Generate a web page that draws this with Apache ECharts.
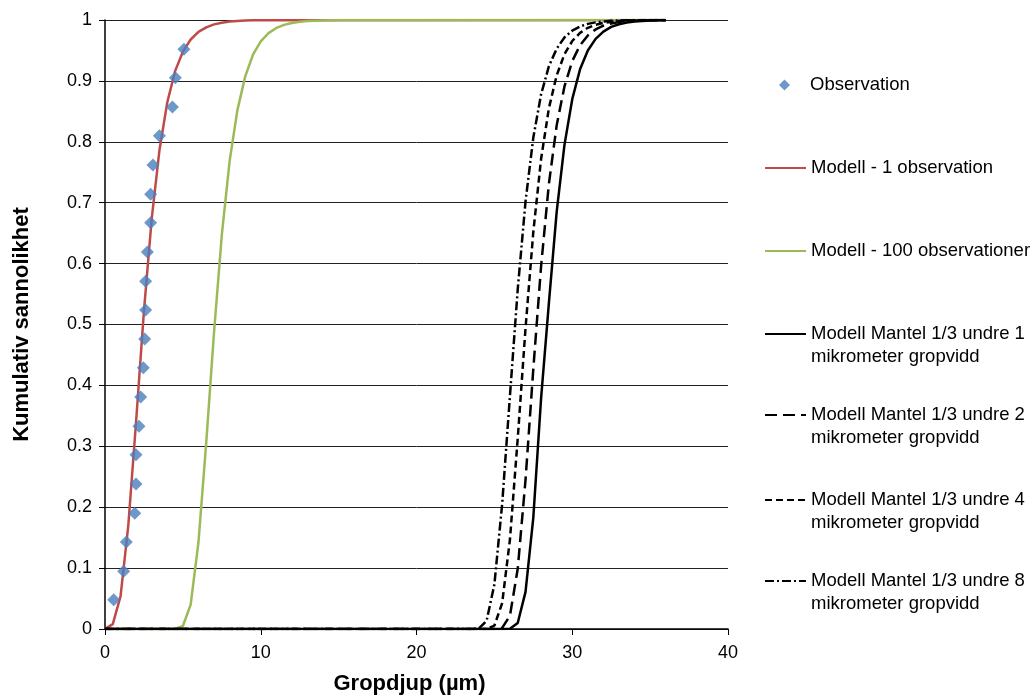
<!DOCTYPE html>
<html>
<head>
<meta charset="utf-8">
<style>
  html, body { margin: 0; padding: 0; background: #fff; }
  #chart { width: 1032px; height: 700px; }
</style>
<script src="https://cdn.jsdelivr.net/npm/echarts@6/dist/echarts.min.js"></script>
</head>
<body>
<div id="chart"></div>
<script>
// Observed pit depths (µm) and their cumulative probability rank
const obsDepth = [0.56, 1.20, 1.37, 1.91, 1.99, 1.99, 2.18, 2.29, 2.46, 2.55,
                  2.61, 2.61, 2.72, 2.93, 2.93, 3.08, 3.49, 4.33, 4.52, 5.07];
const obsProb = [0.048, 0.095, 0.143, 0.190, 0.238, 0.286, 0.333, 0.381, 0.429, 0.476,
                 0.524, 0.571, 0.619, 0.667, 0.714, 0.762, 0.810, 0.857, 0.905, 0.952];

// Model fitted to one observation
const oneDepth = [0, 0.5, 1, 1.5, 2, 2.5, 3, 3.5, 4, 4.5, 5, 5.5, 6, 6.5, 7, 7.5, 8, 8.5, 9, 9.5, 10, 36];
const oneProb = [0.0004, 0.008, 0.054, 0.171, 0.342, 0.522, 0.674, 0.787, 0.865, 0.916, 0.948,
                 0.968, 0.9805, 0.988, 0.9928, 0.9956, 0.9974, 0.9984, 0.999, 0.9994, 0.9996, 1];

// Model for 100 observations
const hundredDepth = [0, 4.5, 5, 5.5, 6, 6.5, 7, 7.5, 8, 8.5, 9, 9.5, 10, 10.5, 11, 11.5, 12,
                      12.5, 13, 13.5, 14, 14.5, 15, 36];
const hundredProb = [0, 0.0002, 0.005, 0.040, 0.142, 0.306, 0.487, 0.647, 0.768, 0.852, 0.907,
                     0.943, 0.965, 0.9785, 0.987, 0.992, 0.9952, 0.9971, 0.9982, 0.9989, 0.9993,
                     0.9996, 0.9998, 1];

// Mantel models, shared depth grid
const mantelDepth = [0, 23, 23.5, 24, 24.5, 25, 25.5, 26, 26.5, 27, 27.5, 28, 28.5, 29, 29.5,
                     30, 30.5, 31, 31.5, 32, 32.5, 33, 33.5, 34, 34.5, 35, 35.5, 36];
const mantel1Prob = [0, 0, 0, 0, 0, 0, 0, 0.0005, 0.0099, 0.061, 0.183, 0.379, 0.535, 0.685, 0.795,
                     0.870, 0.919, 0.950, 0.969, 0.981, 0.9886, 0.9931, 0.9958, 0.9974, 0.9985,
                     0.9991, 0.9994, 0.9997];
const mantel2Prob = [0, 0, 0, 0, 0, 0.00003, 0.0018, 0.022, 0.099, 0.245, 0.427, 0.596, 0.731, 0.827,
                     0.891, 0.9325, 0.9585, 0.9746, 0.9845, 0.9906, 0.9943, 0.9965, 0.9979,
                     0.9987, 0.9992, 0.9995, 0.9997, 0.9998];
const mantel4Prob = [0, 0, 0, 0, 0.0002, 0.0055, 0.0425, 0.147, 0.313, 0.494, 0.652, 0.772, 0.855,
                     0.909, 0.9438, 0.9655, 0.9789, 0.9872, 0.9922, 0.9953, 0.9971, 0.9983,
                     0.999, 0.9994, 0.9996, 0.9998, 0.9999, 0.9999];
const mantel8Prob = [0, 0, 0, 0.0008, 0.0135, 0.073, 0.205, 0.383, 0.558, 0.702, 0.807, 0.878, 0.924,
                     0.953, 0.9714, 0.9826, 0.9894, 0.9936, 0.9961, 0.9976, 0.9986, 0.9991,
                     0.9995, 0.9997, 0.9998, 0.9999, 0.9999, 1];

const seriesNames = [
  'Observation',
  'Modell - 1 observation',
  'Modell - 100 observationer',
  'Modell Mantel 1/3 undre 1\nmikrometer gropvidd',
  'Modell Mantel 1/3 undre 2\nmikrometer gropvidd',
  'Modell Mantel 1/3 undre 4\nmikrometer gropvidd',
  'Modell Mantel 1/3 undre 8\nmikrometer gropvidd'
];

const xTicks = { min: 0, max: 40, interval: 10 };
const yTicks = { min: 0, max: 1, interval: 0.1 };

const pairs = (xs, ys) => xs.map((x, i) => [x, ys[i]]);
const FONT = '"Liberation Sans", Arial, sans-serif';

const lineSeries = (name, xs, ys, color, type, z) => ({
  name, type: 'line', data: pairs(xs, ys), symbol: 'none', z,
  lineStyle: { color, width: 2.5, type },
  itemStyle: { color },
  emphasis: { disabled: true }, animation: false
});

// One legend block per entry; two-line labels get a blank leading line
// so the icon lines up with the first line of text.
const LINE_H = 23;
const ICON_W = 41;
const DIAMOND = 11;
const legendCenters = [85, 168, 251, 334, 415, 500, 581];
const legends = seriesNames.map((name, i) => {
  const multi = name.indexOf('\n') >= 0;
  const isScatter = i === 0;
  // a square diamond icon is centred in the icon slot, so its block starts further right
  const left = isScatter ? 764 + (ICON_W - DIAMOND) / 2 : 764;
  return {
    data: [isScatter ? { name, icon: 'path://M0,-1L1,0L0,1L-1,0Z' } : name],
    left, top: legendCenters[i] - (multi ? 1.5 * LINE_H : LINE_H / 2),
    padding: 0, itemWidth: ICON_W, itemHeight: isScatter ? DIAMOND : 12, itemGap: 0,
    selectedMode: false, orient: 'vertical',
    itemStyle: isScatter ? {} : { opacity: 0 },
    formatter: multi ? (n => ' \n' + n) : undefined,
    textStyle: { fontFamily: FONT, fontSize: 18.5, color: '#000', lineHeight: LINE_H }
  };
});

const option = {
  animation: false,
  backgroundColor: '#fff',
  grid: { left: 105, right: 304, top: 20, bottom: 68, containLabel: false },
  legend: legends,
  xAxis: {
    type: 'value', min: xTicks.min, max: xTicks.max, interval: xTicks.interval,
    name: 'Gropdjup (µm)', nameLocation: 'middle', nameGap: 44,
    nameTextStyle: { fontFamily: FONT, fontSize: 22, fontWeight: 'bold', color: '#000',
                     padding: [0, 14, 0, 0] },
    axisLine: { lineStyle: { color: '#000', width: 1.5 } },
    axisTick: { show: true, length: 6, lineStyle: { color: '#000' } },
    axisLabel: { fontFamily: FONT, fontSize: 18, color: '#000', margin: 15 },
    splitLine: { show: false }
  },
  yAxis: {
    type: 'value', min: yTicks.min, max: yTicks.max, interval: yTicks.interval,
    name: 'Kumulativ sannolikhet', nameLocation: 'middle', nameGap: 72, nameRotate: 90,
    nameTextStyle: { fontFamily: FONT, fontSize: 22, fontWeight: 'bold', color: '#000' },
    axisLine: { show: true, lineStyle: { color: '#000', width: 1.5 } },
    axisTick: { show: true, length: 6, lineStyle: { color: '#000' } },
    axisLabel: { fontFamily: FONT, fontSize: 18, color: '#000', margin: 13 },
    splitLine: { show: true, lineStyle: { color: '#222', width: 1 } }
  },
  series: [
    {
      name: seriesNames[0], type: 'scatter', data: pairs(obsDepth, obsProb),
      symbol: 'diamond', symbolSize: 13, z: 10,
      itemStyle: { color: '#4a7ebb' }, emphasis: { disabled: true }
    },
    lineSeries(seriesNames[1], oneDepth, oneProb, '#be4b48', 'solid', 3),
    lineSeries(seriesNames[2], hundredDepth, hundredProb, '#9bbb59', 'solid', 4),
    lineSeries(seriesNames[3], mantelDepth, mantel1Prob, '#000', 'solid', 5),
    lineSeries(seriesNames[4], mantelDepth, mantel2Prob, '#000', [12, 6], 5),
    lineSeries(seriesNames[5], mantelDepth, mantel4Prob, '#000', [7, 4], 5),
    lineSeries(seriesNames[6], mantelDepth, mantel8Prob, '#000', [9, 3, 2, 3], 5)
  ]
};

const chart = echarts.init(document.getElementById('chart'), null, { renderer: 'canvas' });
chart.setOption(option);
</script>
</body>
</html>
